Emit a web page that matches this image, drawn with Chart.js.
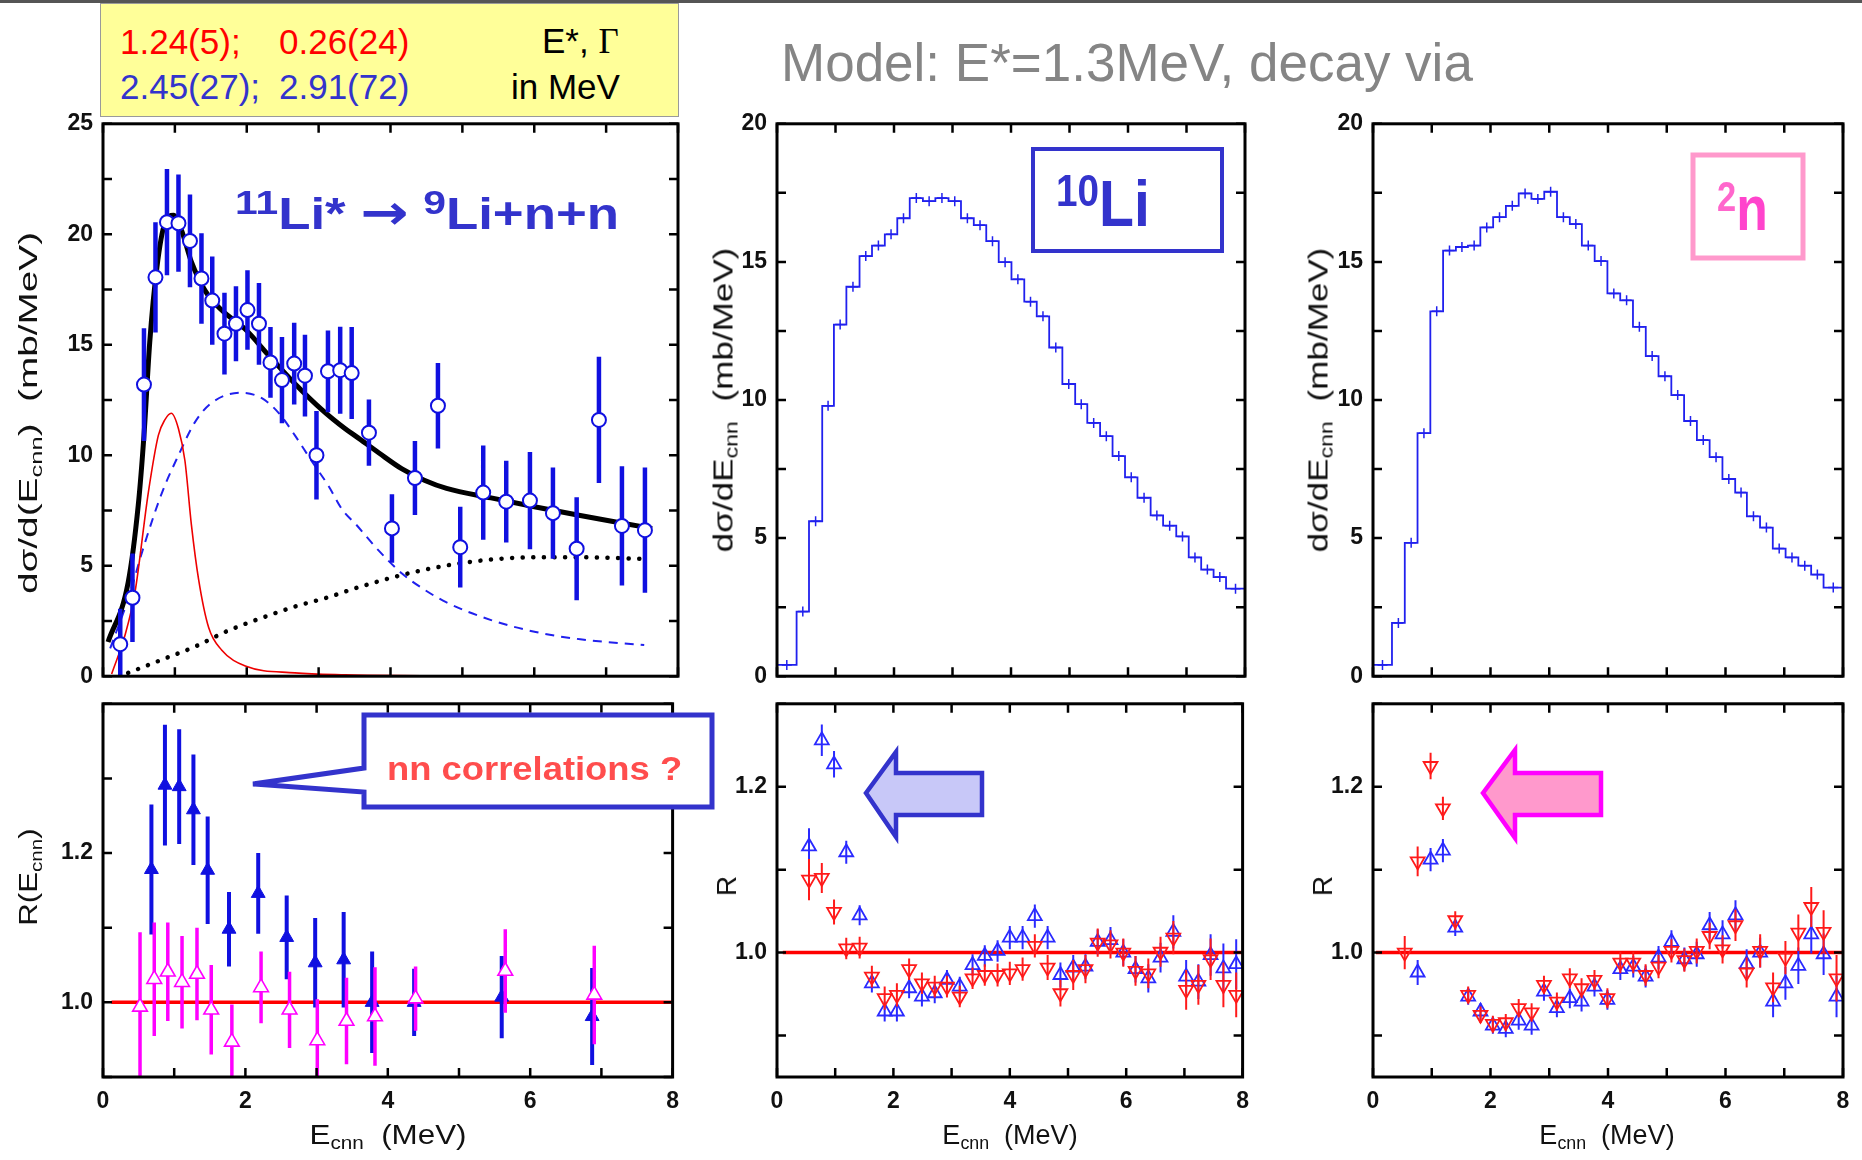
<!DOCTYPE html>
<html><head><meta charset="utf-8">
<script src="https://cdn.jsdelivr.net/npm/chart.js@4.4.1/dist/chart.umd.min.js"></script>
<style>
html,body{margin:0;padding:0;background:#fff;}
#wrap{position:relative;width:1862px;height:1160px;overflow:hidden;background:#fff;font-family:'Liberation Sans',Arial,sans-serif;}
canvas{position:absolute;}
.t{position:absolute;white-space:nowrap;line-height:1;}
.sub{font-size:0.66em;position:relative;top:0.28em;}
svg{position:absolute;left:0;top:0;}
</style></head><body><div id="wrap">
<div style="position:absolute;left:0;top:0;width:1862px;height:3px;background:#555;"></div>
<canvas id="c1" width="690" height="600" style="left:0;top:100px;width:690px;height:600px"></canvas>
<canvas id="c2" width="690" height="480" style="left:0;top:680px;width:690px;height:480px"></canvas>
<canvas id="c3" width="570" height="600" style="left:690px;top:100px;width:570px;height:600px"></canvas>
<canvas id="c4" width="570" height="480" style="left:690px;top:680px;width:570px;height:480px"></canvas>
<canvas id="c5" width="572" height="600" style="left:1290px;top:100px;width:572px;height:600px"></canvas>
<canvas id="c6" width="572" height="480" style="left:1290px;top:680px;width:572px;height:480px"></canvas>

<svg width="1862" height="1160" viewBox="0 0 1862 1160">
  <path d="M364,768 L364,715 L712,715 L712,807 L364,807 L364,792 L253,784 Z" fill="#fff" stroke="#3333cc" stroke-width="5" stroke-linejoin="miter"/>
  <polygon points="866,793 896,752 896,773 982,773 982,815 896,815 896,837" fill="#c8c8f8" stroke="#3333cc" stroke-width="4.5"/>
  <polygon points="1483,793 1515,750 1515,773 1601,773 1601,815 1515,815 1515,838" fill="#ff99cc" stroke="#ff00ff" stroke-width="4.5"/>
  <rect x="1033" y="149" width="189" height="102" fill="none" stroke="#3333cc" stroke-width="4"/>
  <rect x="1693" y="155" width="110" height="103" fill="none" stroke="#ff99cc" stroke-width="5"/>
</svg>

<div style="position:absolute;left:100px;top:3px;width:579px;height:114px;background:#ffff99;border:1px solid #9a9a9a;box-sizing:border-box;"></div>
<div class="t" style="left:120px;top:41px;transform:translateY(-50%);font-size:35px;color:#ff0000;">1.24(5);</div>
<div class="t" style="left:279px;top:41px;transform:translateY(-50%);font-size:35px;color:#ff0000;">0.26(24)</div>
<div class="t" style="left:120px;top:86px;transform:translateY(-50%);font-size:35px;color:#3333cc;">2.45(27);</div>
<div class="t" style="left:279px;top:86px;transform:translateY(-50%);font-size:35px;color:#3333cc;">2.91(72)</div>
<div class="t" style="left:542px;top:41px;transform:translateY(-50%);font-size:35px;color:#000;">E*, <span style="font-family:'Liberation Serif',serif;">Γ</span></div>
<div class="t" style="left:511px;top:86px;transform:translateY(-50%);font-size:35px;color:#000;">in MeV</div>

<div class="t" style="left:781px;top:36px;font-size:53px;color:#858585;">Model: E*=1.3MeV, decay via</div>

<div class="t" style="left:235px;top:188px;font-size:44px;font-weight:bold;color:#3333cc;transform:scaleX(1.2);transform-origin:0 0;"><span style="font-size:34px;position:relative;top:-15px;">11</span>Li* <span style="font-family:'DejaVu Sans',sans-serif;font-weight:bold;font-size:48px;">→</span> <span style="font-size:34px;position:relative;top:-15px;">9</span>Li+n+n</div>

<div class="t" style="left:1056px;top:171px;font-size:65px;font-weight:bold;color:#3333cc;transform:scaleX(0.88);transform-origin:0 0;"><span style="font-size:44px;position:relative;top:-20px;">10</span>Li</div>

<div class="t" style="left:1717px;top:177px;font-size:63px;font-weight:bold;color:#ff44cc;transform:scaleX(0.82);transform-origin:0 0;"><span style="font-size:42px;position:relative;top:-19px;color:#ff66cc;">2</span>n</div>

<div class="t" style="left:387px;top:751px;font-size:34px;font-weight:bold;color:#ff4d4d;transform:scaleX(1.07);transform-origin:0 0;">nn correlations ?</div>

<div class="t" style="left:28px;top:413px;font-size:26px;color:#111;transform:translate(-50%,-50%) rotate(-90deg) scaleX(1.49);">dσ/d(E<span class="sub">cnn</span>)&nbsp;&nbsp;(mb/MeV)</div>
<div class="t" style="left:28px;top:877px;font-size:26px;color:#111;transform:translate(-50%,-50%) rotate(-90deg) scaleX(1.2);">R(E<span class="sub">cnn</span>)</div>
<div class="t" style="left:724px;top:400px;font-size:27px;color:#111;transform:translate(-50%,-50%) rotate(-90deg) scaleX(1.3);">dσ/dE<span class="sub">cnn</span>&nbsp;&nbsp;(mb/MeV)</div>
<div class="t" style="left:727px;top:886px;font-size:28px;color:#111;transform:translate(-50%,-50%) rotate(-90deg);">R</div>
<div class="t" style="left:1319px;top:400px;font-size:27px;color:#111;transform:translate(-50%,-50%) rotate(-90deg) scaleX(1.3);">dσ/dE<span class="sub">cnn</span>&nbsp;&nbsp;(mb/MeV)</div>
<div class="t" style="left:1323px;top:886px;font-size:28px;color:#111;transform:translate(-50%,-50%) rotate(-90deg);">R</div>

<div class="t" style="left:388px;top:1135px;font-size:28px;color:#111;transform:translate(-50%,-50%) scaleX(1.12);">E<span class="sub">cnn</span>&nbsp;&nbsp;(MeV)</div>
<div class="t" style="left:1010px;top:1135px;font-size:27px;color:#111;transform:translate(-50%,-50%);">E<span class="sub">cnn</span>&nbsp;&nbsp;(MeV)</div>
<div class="t" style="left:1607px;top:1135px;font-size:27px;color:#111;transform:translate(-50%,-50%);">E<span class="sub">cnn</span>&nbsp;&nbsp;(MeV)</div>
</div>
<script>
// ---------------- DATA ----------------
const xTickVals = [0,1,2,3,4,5,6,7,8];
const xLabelVals = [0,2,4,6,8];
const topLeftYTicks = [0,2.5,5,7.5,10,12.5,15,17.5,20,22.5,25];
const topModelYTicks = [0,2.5,5,7.5,10,12.5,15,17.5,20];
const topYLabelVals = [0,5,10,15,20,25];
const rLeftTicks = [0.9,1.0,1.1,1.2,1.3,1.4];
const rModelTicks = [0.9,1.0,1.1,1.2,1.3];
const rLabelVals = [1.0,1.2];

// Left top: measured dσ/dEcnn (mb/MeV)
const expE = [0.24,0.41,0.57,0.73,0.89,1.05,1.21,1.37,1.52,1.69,1.85,2.01,2.17,2.33,2.49,2.66,2.81,2.97,3.13,3.30,3.46,3.70,4.02,4.34,4.66,4.97,5.29,5.61,5.94,6.26,6.59,6.90,7.22,7.54];
const expSigma = [1.45,3.55,13.2,18.05,20.55,20.5,19.7,18.0,17.0,15.5,15.95,16.57,15.95,14.2,13.4,14.15,13.6,10.0,13.8,13.85,13.72,11.02,6.69,8.97,12.24,5.84,8.31,7.9,7.95,7.38,5.77,11.6,6.8,6.61];
const expErr = [1.6,2.0,2.55,2.5,2.4,2.2,2.1,2.05,2.0,1.85,1.7,1.8,1.85,1.6,1.95,1.85,1.85,2.0,1.85,1.97,2.08,1.5,1.55,1.67,1.94,1.83,2.13,1.85,2.2,2.07,2.33,2.86,2.7,2.83];

const fitE = [0.07,0.35,0.49,0.57,0.65,0.75,0.86,0.98,1.09,1.23,1.42,1.65,1.98,2.30,2.67,3.04,3.37,3.53,3.84,4.16,4.47,4.78,5.40,6.02,6.64,7.27,7.64];
const fitSigma = [1.55,4.24,7.72,10.9,15.1,18.5,20.5,20.86,20.2,18.75,17.45,16.57,15.7,14.54,13.24,12.08,11.2,10.83,10.1,9.38,8.87,8.5,8.07,7.66,7.27,6.9,6.69];
const resE = [0.12,0.31,0.445,0.63,0.77,0.86,0.95,1.05,1.14,1.23,1.33,1.47,1.65,1.98,2.67,3.37,4.5];
const resSigma = [0.1,1.9,3.8,8.3,10.9,11.6,11.9,11.2,9.75,6.85,4.38,2.2,1.19,0.46,0.15,0.06,0.02];
const broadE = [0.10,0.35,0.58,0.82,1.05,1.28,1.51,1.93,2.21,2.44,2.67,2.90,3.14,3.32,3.53,3.84,4.16,4.47,4.78,5.40,6.02,6.64,7.53];
const broadSigma = [1.26,3.5,6.0,8.3,10.0,11.5,12.37,12.83,12.58,11.93,10.9,9.75,8.6,7.58,6.83,5.67,4.65,3.92,3.34,2.54,2.0,1.67,1.41];
const nonresE = [0.35,0.82,1.28,1.74,2.21,2.67,3.14,3.53,4.16,4.78,5.40,6.02,6.64,7.51];
const nonresSigma = [0.15,0.75,1.34,2.06,2.64,3.15,3.58,4.0,4.58,5.01,5.28,5.38,5.38,5.31];

// Left bottom: R(Ecnn)
const rBlueE = [0.68,0.87,1.07,1.27,1.47,1.77,2.18,2.58,2.98,3.38,3.78,4.37,5.6,6.87];
const rBlueVal = [1.178,1.291,1.289,1.258,1.177,1.098,1.146,1.087,1.053,1.057,1.0,1.0,1.007,0.981];
const rBlueErr = [0.087,0.081,0.077,0.074,0.072,0.05,0.054,0.056,0.06,0.064,0.068,0.045,0.055,0.065];
const rMagE = [0.52,0.72,0.91,1.11,1.32,1.52,1.81,2.22,2.62,3.01,3.42,3.82,4.39,5.65,6.9];
const rMagVal = [0.994,1.031,1.041,1.027,1.038,0.99,0.947,1.02,0.99,0.949,0.975,0.981,1.005,1.042,1.01];
const rMagErr = [0.1,0.076,0.066,0.062,0.062,0.06,0.05,0.048,0.051,0.055,0.058,0.066,0.043,0.056,0.066];
const unityLeftE = [0.12,8];
const unityR = [1,1];

// Middle top: 10Li model histogram (left bin edges, values)
const histEnd = 8;
const li10Edges = [0,0.335,0.547,0.773,0.973,1.186,1.411,1.624,1.843,2.056,2.269,2.494,2.707,2.932,3.145,3.364,3.577,3.79,4.008,4.227,4.44,4.653,4.878,5.097,5.304,5.523,5.736,5.949,6.162,6.387,6.6,6.825,7.038,7.251,7.463,7.676];
const li10Vals = [0.41,2.34,5.61,9.79,12.73,14.1,15.21,15.59,16.0,16.58,17.31,17.2,17.31,17.2,16.58,16.33,15.75,14.99,14.37,13.56,13.03,11.9,10.58,9.85,9.17,8.69,7.97,7.2,6.46,5.82,5.45,5.06,4.3,3.86,3.59,3.17];

// Middle bottom: R for 10Li model
const midE = [0.55,0.77,0.98,1.19,1.42,1.63,1.85,2.06,2.27,2.49,2.71,2.92,3.14,3.36,3.57,3.79,4.0,4.22,4.43,4.65,4.87,5.09,5.3,5.51,5.73,5.95,6.16,6.38,6.59,6.81,7.03,7.24,7.45,7.67,7.89];
const midBlue = [1.128,1.256,1.227,1.121,1.045,0.963,0.929,0.929,0.957,0.947,0.951,0.967,0.959,0.985,0.996,1.002,1.018,1.018,1.044,1.018,0.973,0.982,0.983,1.013,1.015,1.0,0.98,0.969,0.994,1.025,0.971,0.965,0.997,0.981,0.986];
const midBlueErr = [0.022,0.019,0.016,0.014,0.012,0.011,0.012,0.012,0.012,0.012,0.012,0.012,0.012,0.013,0.013,0.013,0.014,0.014,0.014,0.014,0.015,0.015,0.015,0.015,0.016,0.016,0.016,0.017,0.018,0.02,0.02,0.021,0.025,0.03,0.03];
const midRed = [1.088,1.09,1.049,1.005,1.006,0.971,0.945,0.949,0.98,0.963,0.959,0.959,0.947,0.969,0.973,0.973,0.975,0.98,1.008,0.982,0.951,0.973,0.98,1.012,1.01,1.0,0.978,0.975,1.001,1.018,0.955,0.961,0.992,0.961,0.949];
const midRedErr = [0.025,0.018,0.015,0.013,0.013,0.013,0.014,0.014,0.013,0.013,0.013,0.013,0.013,0.013,0.013,0.014,0.014,0.014,0.014,0.015,0.016,0.018,0.017,0.017,0.017,0.017,0.018,0.018,0.018,0.02,0.024,0.024,0.025,0.027,0.027];
const unityModelE = [0.1,8];

// Right top: 2n model histogram
const n2Edges = [0,0.323,0.541,0.758,0.976,1.193,1.411,1.616,1.827,2.045,2.262,2.48,2.697,2.915,3.132,3.35,3.555,3.773,3.99,4.208,4.425,4.643,4.86,5.078,5.295,5.513,5.73,5.948,6.165,6.364,6.588,6.805,7.023,7.24,7.458,7.669];
const n2Vals = [0.41,1.93,4.83,8.8,13.21,15.41,15.54,15.59,16.25,16.62,17.03,17.48,17.28,17.54,16.62,16.37,15.59,15.03,13.86,13.61,12.65,11.59,10.86,10.18,9.24,8.55,7.93,7.14,6.65,5.79,5.38,4.62,4.3,4.0,3.68,3.21];

// Right bottom: R for 2n model
const rgtBlueE = [0.76,0.98,1.19,1.40,1.62,1.83,2.04,2.26,2.48,2.70,2.91,3.13,3.35,3.55,3.77,3.99,4.21,4.43,4.64,4.86,5.08,5.30,5.51,5.73,5.95,6.17,6.36,6.59,6.81,7.02,7.24,7.46,7.67,7.89];
const rgtBlue = [0.976,1.112,1.123,1.03,0.947,0.929,0.912,0.908,0.918,0.912,0.953,0.933,0.945,0.941,0.959,0.943,0.98,0.983,0.971,0.994,1.013,0.992,0.998,1.033,1.022,1.045,0.986,1.0,0.941,0.963,0.984,1.022,0.998,0.947];
const rgtBlueErr = [0.015,0.014,0.014,0.01,0.01,0.01,0.01,0.01,0.011,0.011,0.011,0.011,0.012,0.012,0.012,0.012,0.013,0.013,0.013,0.014,0.014,0.014,0.015,0.016,0.017,0.018,0.018,0.018,0.019,0.02,0.022,0.023,0.025,0.025];
const rgtRedE = [0.54,0.76,0.98,1.19,1.40,1.62,1.83,2.04,2.26,2.48,2.70,2.91,3.13,3.35,3.55,3.77,3.99,4.21,4.43,4.64,4.86,5.08,5.30,5.51,5.73,5.95,6.17,6.36,6.59,6.81,7.02,7.24,7.46,7.67,7.89];
const rgtRed = [1.0,1.11,1.225,1.174,1.039,0.949,0.925,0.914,0.916,0.933,0.928,0.961,0.941,0.969,0.957,0.967,0.945,0.988,0.988,0.973,0.983,1.002,0.991,1.002,1.02,1.004,1.033,0.976,1.002,0.958,0.994,1.024,1.055,1.025,0.969];
const rgtRedErr = [0.02,0.018,0.016,0.014,0.011,0.01,0.01,0.01,0.01,0.011,0.011,0.011,0.011,0.012,0.012,0.012,0.012,0.013,0.013,0.013,0.014,0.014,0.014,0.015,0.016,0.017,0.019,0.018,0.02,0.018,0.02,0.022,0.024,0.026,0.028];
const unityRightE = [0.05,8];

// ---------------- HELPERS ----------------
const FONT = "'Liberation Sans Narrow','Arial Narrow','Liberation Sans',Arial,sans-serif";
Chart.defaults.font.family = FONT;
Chart.defaults.color = '#111';

function pts(xs, ys){ return xs.map((x,i)=>({x:x, y:ys[i]})); }
function bars(xs, ys, es){ const d=[]; xs.forEach((x,i)=>{ d.push({x:x,y:ys[i]-es[i]},{x:x,y:ys[i]+es[i]},{x:x,y:null}); }); return d; }
function steps(edges, vals){ const d = edges.map((e,i)=>({x:e,y:vals[i]})); d.push({x:histEnd,y:vals[vals.length-1]}); return d; }
function centers(edges, vals){ return edges.map((e,i)=>({x:(e+(i+1<edges.length?edges[i+1]:histEnd))/2, y:vals[i]})); }
const near = (arr, v) => arr.some(a => Math.abs(a - v) < 1e-6);

const frameTicks = {
  id: 'frameTicks',
  afterDraw(chart) {
    const {ctx, chartArea: a} = chart;
    const x = chart.scales.x, y = chart.scales.y, L = 9;
    ctx.save();
    ctx.strokeStyle = '#000';
    ctx.lineWidth = 2.5;
    ctx.beginPath();
    x.ticks.forEach(t => { const p = x.getPixelForValue(t.value);
      ctx.moveTo(p, a.bottom); ctx.lineTo(p, a.bottom - L);
      ctx.moveTo(p, a.top); ctx.lineTo(p, a.top + L); });
    y.ticks.forEach(t => { const p = y.getPixelForValue(t.value);
      ctx.moveTo(a.left, p); ctx.lineTo(a.left + L, p);
      ctx.moveTo(a.right, p); ctx.lineTo(a.right - L, p); });
    ctx.stroke();
    ctx.lineWidth = 3;
    ctx.strokeRect(a.left, a.top, a.right - a.left, a.bottom - a.top);
    ctx.restore();
  }
};

function makeChart(id, c) {
  return new Chart(document.getElementById(id), {
    type: 'scatter',
    data: { datasets: c.datasets },
    options: {
      responsive: false, animation: false, devicePixelRatio: 1, events: [],
      layout: { padding: c.pad },
      plugins: { legend: { display: false }, tooltip: { enabled: false } },
      scales: {
        x: { type: 'linear', position: 'bottom', min: 0, max: 8,
          afterBuildTicks: s => { s.ticks = xTickVals.map(v => ({value: v})); },
          afterFit: s => { s.height = c.xHeight; },
          grid: { display: false, drawTicks: false }, border: { display: false },
          ticks: { display: c.showX, autoSkip: false, maxRotation: 0, padding: 11,
            font: { size: 23, weight: 'bold' }, color: '#111',
            callback: v => near(xLabelVals, v) ? String(v) : '' } },
        y: { type: 'linear', position: 'left', min: c.yMin, max: c.yMax,
          afterBuildTicks: s => { s.ticks = c.yTicks.map(v => ({value: v})); },
          afterFit: s => { s.width = c.yWidth; },
          grid: { display: false, drawTicks: false }, border: { display: false },
          ticks: { autoSkip: false, padding: 10, font: { size: 23, weight: 'bold' }, color: '#111',
            callback: c.yLabel } }
      }
    },
    plugins: [frameTicks]
  });
}
const topLabel = v => near(topYLabelVals, v) ? String(v) : '';
const rLabel = v => near(rLabelVals, v) ? v.toFixed(1) : '';
const line = (data, color, width, extra) => Object.assign({ type: 'line', data: data, borderColor: color, borderWidth: width, pointRadius: 0, fill: false, spanGaps: false }, extra || {});

// ---------------- CHARTS ----------------
const BLUE = '#1010e0';
makeChart('c1', {
  yMin: 0, yMax: 25, yTicks: topLeftYTicks, yLabel: topLabel, yWidth: 103, showX: false, xHeight: 0,
  pad: { top: 18, right: 12, bottom: 8, left: 0 },
  datasets: [
    { data: pts(expE, expSigma), pointStyle: 'circle', pointRadius: 7, pointBackgroundColor: '#fff', pointBorderColor: BLUE, pointBorderWidth: 2, order: 0 },
    line(bars(expE, expSigma, expErr), BLUE, 4.5, { borderCapStyle: 'butt', order: 1 }),
    line(pts(fitE, fitSigma), '#000', 5, { cubicInterpolationMode: 'monotone', order: 2 }),
    line(pts(resE, resSigma), '#ee0000', 1.6, { cubicInterpolationMode: 'monotone', order: 3 }),
    line(pts(broadE, broadSigma), '#2020ee', 2, { cubicInterpolationMode: 'monotone', borderDash: [9, 7], order: 4 }),
    line(pts(nonresE, nonresSigma), '#000', 4.5, { cubicInterpolationMode: 'monotone', borderDash: [0.1, 10.5], borderCapStyle: 'round', order: 5 })
  ]
});
makeChart('c2', {
  yMin: 0.9, yMax: 1.4, yTicks: rLeftTicks, yLabel: rLabel, yWidth: 103, showX: true, xHeight: 83,
  pad: { top: 12, right: 12, bottom: 0, left: 0 },
  datasets: [
    { data: pts(rMagE, rMagVal), pointStyle: 'triangle', pointRadius: 8.5, pointBackgroundColor: '#fff', pointBorderColor: '#ff00ff', pointBorderWidth: 1.6, order: 0 },
    line(bars(rMagE, rMagVal, rMagErr), '#ff00ff', 3.5, { order: 1 }),
    { data: pts(rBlueE, rBlueVal), pointStyle: 'triangle', pointRadius: 8, pointBackgroundColor: BLUE, pointBorderColor: BLUE, pointBorderWidth: 1, order: 2 },
    line(bars(rBlueE, rBlueVal, rBlueErr), BLUE, 4, { order: 3 }),
    line(pts(unityLeftE, unityR), '#ff0000', 3.5, { order: 4 })
  ]
});
function histChart(id, yWidth, rightPad, edges, vals) {
  makeChart(id, {
    yMin: 0, yMax: 20, yTicks: topModelYTicks, yLabel: topLabel, yWidth: yWidth, showX: false, xHeight: 0,
    pad: { top: 18, right: rightPad, bottom: 8, left: 0 },
    datasets: [
      { data: centers(edges, vals), pointStyle: 'cross', pointRadius: 5, pointBorderColor: '#2020ee', pointBorderWidth: 1.5, order: 0 },
      line(steps(edges, vals), '#2020ee', 1.8, { stepped: 'before', order: 1 })
    ]
  });
}
function ratioChart(id, yWidth, rightPad, bE, bV, bErr, rE, rV, rErr, uE) {
  makeChart(id, {
    yMin: 0.85, yMax: 1.3, yTicks: rModelTicks, yLabel: rLabel, yWidth: yWidth, showX: true, xHeight: 83,
    pad: { top: 12, right: rightPad, bottom: 0, left: 0 },
    datasets: [
      { data: pts(rE, rV), pointStyle: 'triangle', rotation: 180, pointRadius: 8, pointBackgroundColor: 'rgba(0,0,0,0)', pointBorderColor: '#ff1a1a', pointBorderWidth: 1.8, order: 0 },
      line(bars(rE, rV, rErr), '#ff1a1a', 2, { order: 1 }),
      { data: pts(bE, bV), pointStyle: 'triangle', pointRadius: 8, pointBackgroundColor: 'rgba(0,0,0,0)', pointBorderColor: '#2a2aff', pointBorderWidth: 1.8, order: 2 },
      line(bars(bE, bV, bErr), '#2a2aff', 2, { order: 3 }),
      line(pts(uE, unityR), '#ff0000', 3.5, { order: 4 })
    ]
  });
}
histChart('c3', 87, 15, li10Edges, li10Vals);
ratioChart('c4', 87, 15, midE, midBlue, midBlueErr, midE, midRed, midRedErr, unityModelE);
histChart('c5', 83, 19, n2Edges, n2Vals);
ratioChart('c6', 83, 19, rgtBlueE, rgtBlue, rgtBlueErr, rgtRedE, rgtRed, rgtRedErr, unityRightE);
</script>
</body></html>
